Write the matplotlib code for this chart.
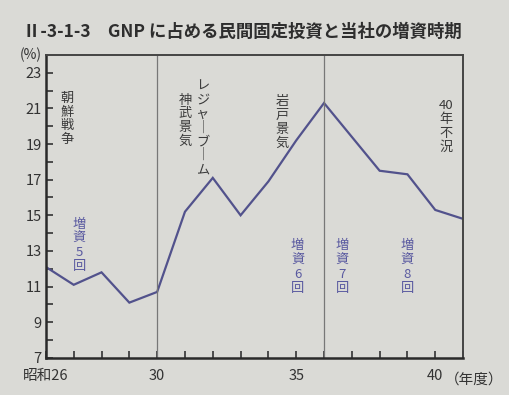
import numpy as np
import matplotlib.pyplot as plt
from matplotlib.ticker import MultipleLocator, FixedLocator

plt.rcParams['font.family'] = ['Noto Sans CJK JP', 'DejaVu Sans']

# fiscal year (Showa) and private fixed investment share of GNP (%)
years = [26, 27, 28, 29, 30, 31, 32, 33, 34, 35, 36, 37, 38, 39, 40, 41]
gnp_share = [12.1, 11.1, 11.8, 10.1, 10.7, 15.2, 17.1, 15.0, 16.9, 19.2, 21.3, 19.4, 17.5, 17.3, 15.3, 14.8]

boom_labels = ['朝鮮戦争', '神武景気', 'レジャーブーム', '岩戸景気', '40年不況']
boom_x = [26.75, 31.0, 31.65, 34.5, 40.4]
boom_y = [20.4, 20.3, 19.9, 20.2, 20.0]

raise_labels = ['増資5回', '増資6回', '増資7回', '増資8回']
raise_x = [27.2, 35.05, 36.65, 39.0]
raise_y = [13.3, 12.1, 12.1, 12.1]

period_lines = [30, 36]

bg = '#dadad6'
ink = '#333333'
blue = '#52528c'


def vert(s):
    # stack characters to mimic vertical writing
    parts = []
    i = 0
    while i < len(s):
        if s[i:i + 2].isdigit():
            parts.append(s[i:i + 2])
            i += 2
            continue
        parts.append('｜' if s[i] == 'ー' else s[i])
        i += 1
    return '\n'.join(parts)


fig = plt.figure(figsize=(5.1, 3.95), dpi=100, facecolor=bg)
ax = fig.add_axes([0.09, 0.094, 0.818, 0.767], facecolor=bg)

ax.plot(years, gnp_share, color=blue, lw=1.6, solid_joinstyle='miter')
for xv in period_lines:
    ax.axvline(xv, color='#777777', lw=0.9)

ax.set_xlim(26, 41)
ax.set_ylim(7, 24)

ax.yaxis.set_major_locator(FixedLocator([7, 9, 11, 13, 15, 17, 19, 21, 23]))
ax.yaxis.set_minor_locator(FixedLocator([8, 10, 12, 14, 16, 18, 20, 22]))
ax.xaxis.set_major_locator(FixedLocator([26, 30, 35, 40]))
ax.xaxis.set_minor_locator(MultipleLocator(1))
ax.set_xticklabels(['昭和26', '30', '35', '40'])

ax.tick_params(axis='both', which='both', direction='in', length=5, width=1.2,
               color=ink, labelcolor=ink, labelsize=10.5)
ax.tick_params(axis='y', pad=3)
ax.tick_params(axis='x', pad=8)

for side in ['left', 'bottom']:
    ax.spines[side].set_linewidth(1.8)
    ax.spines[side].set_color('#2a2a2a')
for side in ['top', 'right']:
    ax.spines[side].set_linewidth(1.4)
    ax.spines[side].set_color('#444444')

ax.text(40.35, -0.05, '（年度）', transform=ax.get_xaxis_transform(),
        ha='left', va='top', fontsize=10.5, color=ink)
ax.text(-0.01, 1.0, '(%)', transform=ax.transAxes, ha='right', va='center',
        fontsize=10, color=ink)

for lab, xv, yv in zip(boom_labels, boom_x, boom_y):
    ax.text(xv, yv, vert(lab), ha='center', va='center', fontsize=9.5,
            color='#3a3a3a', linespacing=1.08)
for lab, xv, yv in zip(raise_labels, raise_x, raise_y):
    ax.text(xv, yv, vert(lab), ha='center', va='center', fontsize=9.5,
            color='#5a5aa0', linespacing=1.12)

fig.text(0.045, 0.918, 'Ⅱ-3-1-3　GNP に占める民間固定投資と当社の増資時期',
         ha='left', va='center', fontsize=12.5, fontweight='bold', color='#2e2e2e')

fig.savefig('out.png', dpi=100, facecolor=bg)
